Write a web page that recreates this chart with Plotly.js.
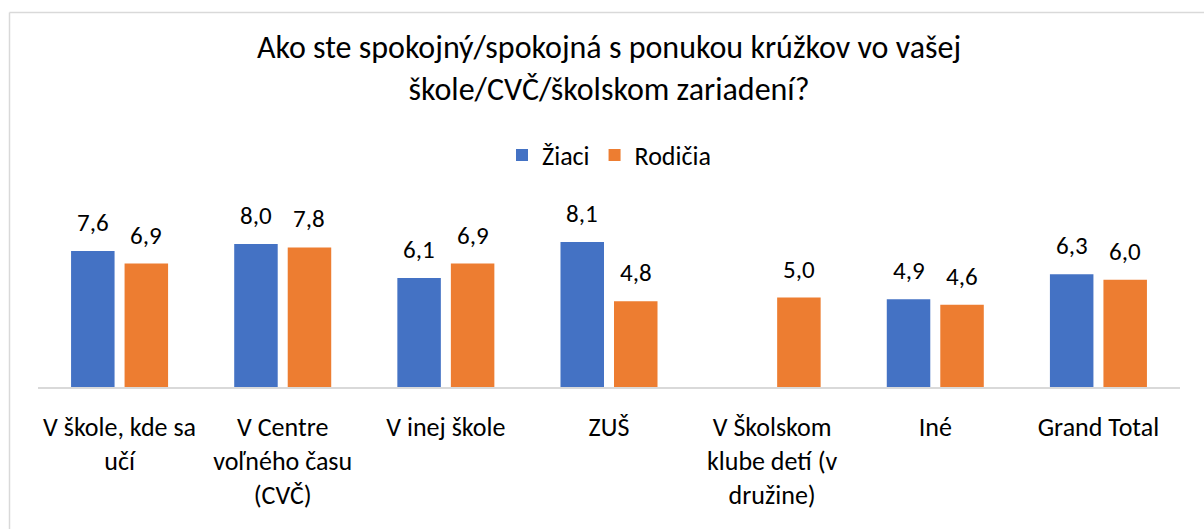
<!DOCTYPE html>
<html>
<head>
<meta charset="utf-8">
<script src="https://cdn.plot.ly/plotly-3.0.1.min.js"></script>
<style>html,body{margin:0;padding:0;background:#fff;}#chart{width:1204px;height:529px;}</style>
</head>
<body>
<div id="chart"></div>
<script>
const categories = ["V škole, kde sa učí", "V Centre voľného času (CVČ)", "V inej škole", "ZUŠ", "V Školskom klube detí (v družine)", "Iné", "Grand Total"];
const tickLabels = ["V škole, kde sa<br>učí", "V Centre<br>voľného času<br>(CVČ)", "V inej škole", "ZUŠ", "V Školskom<br>klube detí (v<br>družine)", "Iné", "Grand Total"];
const ziaci = [7.6, 8.0, 6.1, 8.1, null, 4.9, 6.3];
const rodicia = [6.9, 7.8, 6.9, 4.8, 5.0, 4.6, 6.0];
const seriesNames = ["Žiaci", "Rodičia"];
const titleText = "Ako ste spokojný/spokojná s ponukou krúžkov vo vašej<br>škole/CVČ/školskom zariadení?";

const FONT = "Carlito, Calibri, Lato, sans-serif";
const W = 1204, H = 529;
const M = {l: 38, r: 24, t: 226, b: 142};
const pw = W - M.l - M.r, ph = H - M.t - M.b;
const px2x = p => (p - M.l) / pw;
const py2y = p => (H - M.b - p) / ph;

const idx = categories.map((c, i) => i);
const bargap = 0.344, half = (1 - bargap) / 4;

const fmt = v => v.toFixed(1).replace(".", ",");
const annotations = [];
[ziaci, rodicia].forEach((arr, s) => {
  arr.forEach((v, i) => {
    if (v === null) return;
    annotations.push({
      x: i + (s === 0 ? -half : half), y: v, xref: "x", yref: "y",
      text: fmt(v), showarrow: false, yanchor: "bottom", yshift: 11,
      font: {family: FONT, size: 25, color: "#000"}
    });
  });
});

const traces = [
  {type: "bar", name: seriesNames[0], x: idx, y: ziaci, marker: {color: "#4472C4"}, hoverinfo: "y"},
  {type: "bar", name: seriesNames[1], x: idx, y: rodicia, marker: {color: "#ED7D31"}, hoverinfo: "y"}
];

const layout = {
  width: W, height: H,
  margin: M,
  paper_bgcolor: "#fff", plot_bgcolor: "#fff",
  separators: ", ",
  font: {family: FONT, size: 26, color: "#000"},
  title: {text: titleText, x: 0.5, xref: "paper", y: 1 - 58/H, yref: "container", yanchor: "top",
          font: {family: FONT, size: 32, color: "#000"}},
  barmode: "group", bargap: bargap, bargroupgap: 0.187,
  showlegend: true,
  legend: {orientation: "h", x: 0.5, xanchor: "center", xref: "paper", y: py2y(155), yanchor: "middle",
           font: {family: FONT, size: 26, color: "#000"}, itemwidth: 30, tracegroupgap: 0},
  xaxis: {tickmode: "array", tickvals: idx, ticktext: tickLabels, range: [-0.5, 6.5],
          showline: true, linecolor: "#D9D9D9", linewidth: 2, ticks: "", showgrid: false, zeroline: false,
          ticklabelstandoff: 16, tickfont: {family: FONT, size: 26, color: "#000"}, fixedrange: true},
  yaxis: {range: [0, 9], visible: false, showgrid: false, zeroline: false, fixedrange: true},
  annotations: annotations,
  shapes: [
    {type: "line", xref: "paper", yref: "paper", x0: px2x(9.5), x1: px2x(9.5), y0: py2y(12.5), y1: py2y(529), line: {color: "#D9D9D9", width: 1.5}},
    {type: "line", xref: "paper", yref: "paper", x0: px2x(9.5), x1: px2x(1204), y0: py2y(12.5), y1: py2y(12.5), line: {color: "#D9D9D9", width: 1.5}}
  ]
};

Plotly.newPlot("chart", traces, layout, {displayModeBar: false, staticPlot: true});
</script>
</body>
</html>
